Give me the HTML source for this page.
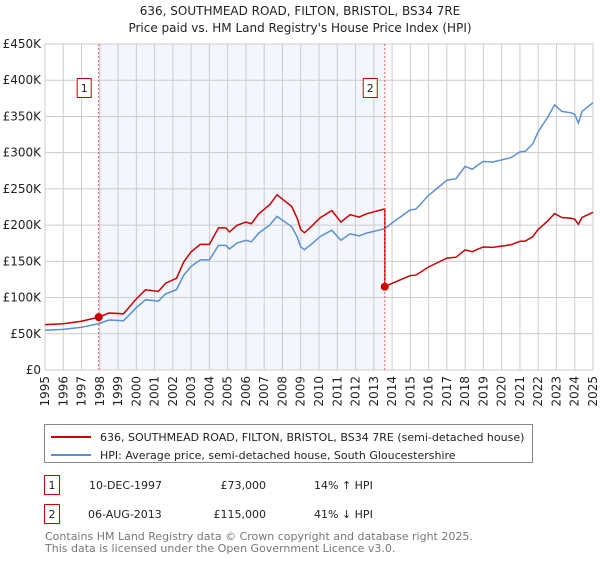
<!DOCTYPE html>
<html><head><meta charset="utf-8"><style>
body{margin:0;background:#fff;font-family:"DejaVu Sans","Liberation Sans",sans-serif;}
svg text{font-family:"DejaVu Sans","Liberation Sans",sans-serif;}
</style></head><body>
<svg id="c" width="600" height="560" xmlns="http://www.w3.org/2000/svg">
<text x="300" y="15" text-anchor="middle" font-size="12" fill="#222">636, SOUTHMEAD ROAD, FILTON, BRISTOL, BS34 7RE</text>
<text x="300" y="32" text-anchor="middle" font-size="12" fill="#222">Price paid vs. HM Land Registry's House Price Index (HPI)</text>
<g id="plot"></g>
<g>
<rect x="44.5" y="424.5" width="488" height="38" fill="#fff" stroke="#888"/>
<line x1="51" y1="437" x2="91" y2="437" stroke="#cc0000" stroke-width="2"/>
<text x="100" y="441" font-size="11" fill="#222">636, SOUTHMEAD ROAD, FILTON, BRISTOL, BS34 7RE (semi-detached house)</text>
<line x1="51" y1="455" x2="91" y2="455" stroke="#5a8fd6" stroke-width="2"/>
<text x="100" y="459" font-size="11" fill="#222">HPI: Average price, semi-detached house, South Gloucestershire</text>
</g>
<g font-size="11" fill="#222">
<rect x="44.5" y="475.5" width="15" height="19" fill="#fff" stroke="#cc0000"/>
<text x="52" y="489" text-anchor="middle">1</text>
<text x="89" y="489">10-DEC-1997</text><text x="266" y="489" text-anchor="end">£73,000</text><text x="314" y="489">14% ↑ HPI</text>
<rect x="44.5" y="504.5" width="15" height="19" fill="#fff" stroke="#cc0000"/>
<text x="52" y="518" text-anchor="middle">2</text>
<text x="88" y="518">06-AUG-2013</text><text x="266" y="518" text-anchor="end">£115,000</text><text x="314" y="518">41% ↓ HPI</text>
</g>
<text x="45" y="540" font-size="11" fill="#777">Contains HM Land Registry data © Crown copyright and database right 2025.</text>
<text x="45" y="552" font-size="11" fill="#777">This data is licensed under the Open Government Licence v3.0.</text>
</svg>
<script>
const yTicks=[0,50000,100000,150000,200000,250000,300000,350000,400000,450000];
const yTickLabels=["£0","£50K","£100K","£150K","£200K","£250K","£300K","£350K","£400K","£450K"];
const years=[1995,1996,1997,1998,1999,2000,2001,2002,2003,2004,2005,2006,2007,2008,2009,2010,2011,2012,2013,2014,2015,2016,2017,2018,2019,2020,2021,2022,2023,2024,2025];
const hpiDates=[1995,1996,1997,1997.94,1998.5,1999.3,2000,2000.5,2001.2,2001.6,2002.2,2002.6,2003,2003.5,2004,2004.5,2004.9,2005.1,2005.5,2006,2006.3,2006.7,2007.3,2007.7,2008.1,2008.5,2008.8,2009.0,2009.2,2009.6,2010.05,2010.7,2011.2,2011.7,2012.2,2012.6,2013.6,2014,2015,2015.3,2016,2017,2017.5,2018,2018.4,2018.7,2019,2019.5,2020,2020.5,2021,2021.3,2021.7,2022,2022.5,2022.9,2023.3,2023.8,2024,2024.2,2024.4,2025];
const hpiValues=[55000,56000,59000,64000,69000,68000,86000,97000,95000,105000,111000,131000,143000,152000,152000,172000,172000,167000,175000,179000,177000,189000,200000,212000,205000,198000,184000,170000,166000,174000,184000,193000,179000,188000,185000,189000,195000,203000,221000,222000,241000,262000,264000,281000,277000,283000,288000,287000,290000,293000,301000,302000,312000,329000,348000,366000,357000,355000,353000,341000,357000,369000];
const saleDates=[1997.94,2013.6];
const salePrices=[73000,115000];
const saleLabels=["1","2"];

const NS="http://www.w3.org/2000/svg";
const L=45,R=593,T=44,B=370;
const x=d=>L+(d-1995)/30*(R-L);
const y=v=>B-v/450000*(B-T);
const g=document.getElementById('plot');
function mk(t,a){const e=document.createElementNS(NS,t);for(const k in a)e.setAttribute(k,a[k]);g.appendChild(e);return e;}
let sh=mk('rect',{x:x(saleDates[0]),y:T,width:x(saleDates[1])-x(saleDates[0]),height:B-T,fill:'#f3f6fd'});


yTicks.forEach((v,i)=>{
 let l=mk('line',{x1:L,x2:R,y1:y(v),y2:y(v),stroke:'#ccc'});
 
 
 let t=mk('text',{x:L-4,y:y(v)+4,'text-anchor':'end','font-size':12,fill:'#222'});
 t.textContent=yTickLabels[i];
 
 
});
years.forEach(yr=>{
 let l=mk('line',{x1:x(yr),x2:x(yr),y1:T,y2:B,stroke:'#ccc'});
 
 
 let t=mk('text',{transform:`translate(${x(yr)+4},${B+6}) rotate(-90)`,'text-anchor':'end','font-size':12,fill:'#222'});
 t.textContent=yr;
 
 
});
let fr=mk('rect',{x:L,y:T,width:R-L,height:B-T,fill:'none',stroke:'#ccc'});


let hp=hpiDates.map((d,i)=>x(d).toFixed(1)+','+y(hpiValues[i]).toFixed(1)).join(' ');
let hl=mk('polyline',{points:hp,fill:'none',stroke:'#5a8fd6','stroke-width':1.5});


function hpiAt(d){for(let i=1;i<hpiDates.length;i++){if(d<=hpiDates[i]){const f=(d-hpiDates[i-1])/(hpiDates[i]-hpiDates[i-1]);return hpiValues[i-1]+f*(hpiValues[i]-hpiValues[i-1]);}}return hpiValues[hpiValues.length-1];}
const f0=salePrices[0]/hpiAt(saleDates[0]),f1=salePrices[1]/hpiAt(saleDates[1]);
let pts=[];
hpiDates.forEach((d,i)=>{
 if(d<saleDates[1])pts.push([d,hpiValues[i]*f0]);
 else{ if(pts.length&&pts[pts.length-1][0]<saleDates[1]){pts.push([saleDates[1],hpiAt(saleDates[1])*f0]);pts.push([saleDates[1],salePrices[1]]);} pts.push([d,hpiValues[i]*f1]); }
});
let pl=mk('polyline',{points:pts.map(p=>x(p[0]).toFixed(1)+','+y(p[1]).toFixed(1)).join(' '),fill:'none',stroke:'#cc0000','stroke-width':1.5});


saleDates.forEach((d,i)=>{
 let v=mk('line',{x1:x(d),x2:x(d),y1:T,y2:B,stroke:'#e06060','stroke-dasharray':'2,2'});
 
 
 let c=mk('circle',{cx:x(d),cy:y(salePrices[i]),r:4,fill:'#cc0000'});
 
 
 let b=mk('rect',{x:x(d)-21.5,y:78.5,width:14,height:19,fill:'#fff',stroke:'#cc0000'});
 
 
 let t=mk('text',{x:x(d)-14.5,y:92,'text-anchor':'middle','font-size':11,fill:'#222'});
 t.textContent=saleLabels[i];
 
 
});
</script>
</body></html>
